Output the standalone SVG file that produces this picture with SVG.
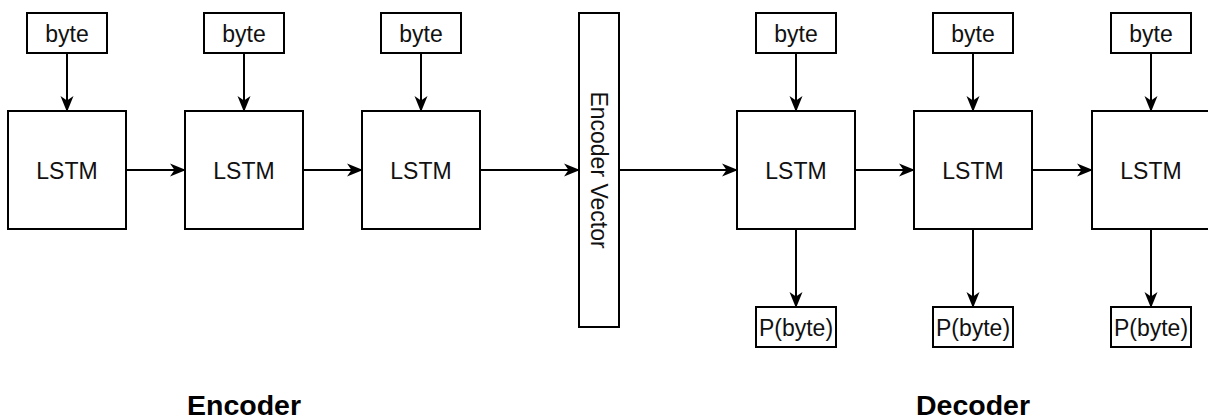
<svg xmlns="http://www.w3.org/2000/svg" width="1208" height="420" viewBox="0 0 1208 420">
  <style>
    .box { fill: #ffffff; stroke: #000000; stroke-width: 2; }
    .lbl { font-family: "Liberation Sans", Arial, sans-serif; font-size: 23px; fill: #111111; text-anchor: middle; }
    .title { font-family: "Liberation Sans", Arial, sans-serif; font-size: 28.5px; font-weight: bold; fill: #000000; text-anchor: middle; }
    .edge { fill: none; stroke: #000000; stroke-width: 2; marker-end: url(#arrow); }
  </style>
  <defs>
    <marker id="arrow" viewBox="0 0 16 14" refX="15" refY="7" markerWidth="16" markerHeight="14" markerUnits="userSpaceOnUse" orient="auto">
      <path d="M0,0.5 L16,7 L0,13.5 L4.5,7 Z" fill="#000000"/>
    </marker>
  </defs>

  <rect width="1208" height="420" fill="#ffffff"/>

  <!-- connectors -->
  <g id="connectors">
    <!-- byte inputs into encoder cells -->
    <line class="edge" x1="67" y1="53" x2="67" y2="111"/>
    <line class="edge" x1="244" y1="53" x2="244" y2="111"/>
    <line class="edge" x1="421" y1="53" x2="421" y2="111"/>
    <!-- encoder chain -->
    <line class="edge" x1="126" y1="170" x2="185" y2="170"/>
    <line class="edge" x1="303" y1="170" x2="362" y2="170"/>
    <line class="edge" x1="480" y1="170" x2="579" y2="170"/>
    <!-- encoder vector into decoder -->
    <line class="edge" x1="619" y1="170" x2="737" y2="170"/>
    <!-- decoder chain -->
    <line class="edge" x1="855" y1="170" x2="914" y2="170"/>
    <line class="edge" x1="1032" y1="170" x2="1092" y2="170"/>
    <!-- byte inputs into decoder cells -->
    <line class="edge" x1="796" y1="53" x2="796" y2="111"/>
    <line class="edge" x1="973" y1="53" x2="973" y2="111"/>
    <line class="edge" x1="1151" y1="53" x2="1151" y2="111"/>
    <!-- decoder outputs -->
    <line class="edge" x1="796" y1="229" x2="796" y2="307"/>
    <line class="edge" x1="973" y1="229" x2="973" y2="307"/>
    <line class="edge" x1="1151" y1="229" x2="1151" y2="307"/>
  </g>

  <!-- encoder -->
  <g id="enc-byte-1"><rect class="box" x="27" y="13" width="80" height="40"/><text class="lbl" x="67" y="41.5">byte</text></g>
  <g id="enc-byte-2"><rect class="box" x="204" y="13" width="80" height="40"/><text class="lbl" x="244" y="41.5">byte</text></g>
  <g id="enc-byte-3"><rect class="box" x="381" y="13" width="80" height="40"/><text class="lbl" x="421" y="41.5">byte</text></g>

  <g id="enc-lstm-1"><rect class="box" x="8" y="111" width="118" height="118"/><text class="lbl" x="67" y="178.5">LSTM</text></g>
  <g id="enc-lstm-2"><rect class="box" x="185" y="111" width="118" height="118"/><text class="lbl" x="244" y="178.5">LSTM</text></g>
  <g id="enc-lstm-3"><rect class="box" x="362" y="111" width="118" height="118"/><text class="lbl" x="421" y="178.5">LSTM</text></g>

  <g id="encoder-vector">
    <rect class="box" x="579" y="13" width="40" height="314"/>
    <text class="lbl" transform="translate(599,170) rotate(90)" x="0" y="8.2">Encoder Vector</text>
  </g>

  <!-- decoder -->
  <g id="dec-byte-1"><rect class="box" x="756" y="13" width="80" height="40"/><text class="lbl" x="796" y="41.5">byte</text></g>
  <g id="dec-byte-2"><rect class="box" x="933" y="13" width="80" height="40"/><text class="lbl" x="973" y="41.5">byte</text></g>
  <g id="dec-byte-3"><rect class="box" x="1111" y="13" width="80" height="40"/><text class="lbl" x="1151" y="41.5">byte</text></g>

  <g id="dec-lstm-1"><rect class="box" x="737" y="111" width="118" height="118"/><text class="lbl" x="796" y="178.5">LSTM</text></g>
  <g id="dec-lstm-2"><rect class="box" x="914" y="111" width="118" height="118"/><text class="lbl" x="973" y="178.5">LSTM</text></g>
  <g id="dec-lstm-3"><rect class="box" x="1092" y="111" width="118" height="118"/><text class="lbl" x="1151" y="178.5">LSTM</text></g>

  <g id="dec-out-1"><rect class="box" x="756" y="307" width="80" height="40"/><text class="lbl" x="796" y="336">P(byte)</text></g>
  <g id="dec-out-2"><rect class="box" x="933" y="307" width="80" height="40"/><text class="lbl" x="973" y="336">P(byte)</text></g>
  <g id="dec-out-3"><rect class="box" x="1111" y="307" width="80" height="40"/><text class="lbl" x="1151" y="336">P(byte)</text></g>

  <!-- section titles -->
  <g id="title-encoder"><text class="title" x="244" y="415">Encoder</text></g>
  <g id="title-decoder"><text class="title" x="973" y="415">Decoder</text></g>
</svg>
